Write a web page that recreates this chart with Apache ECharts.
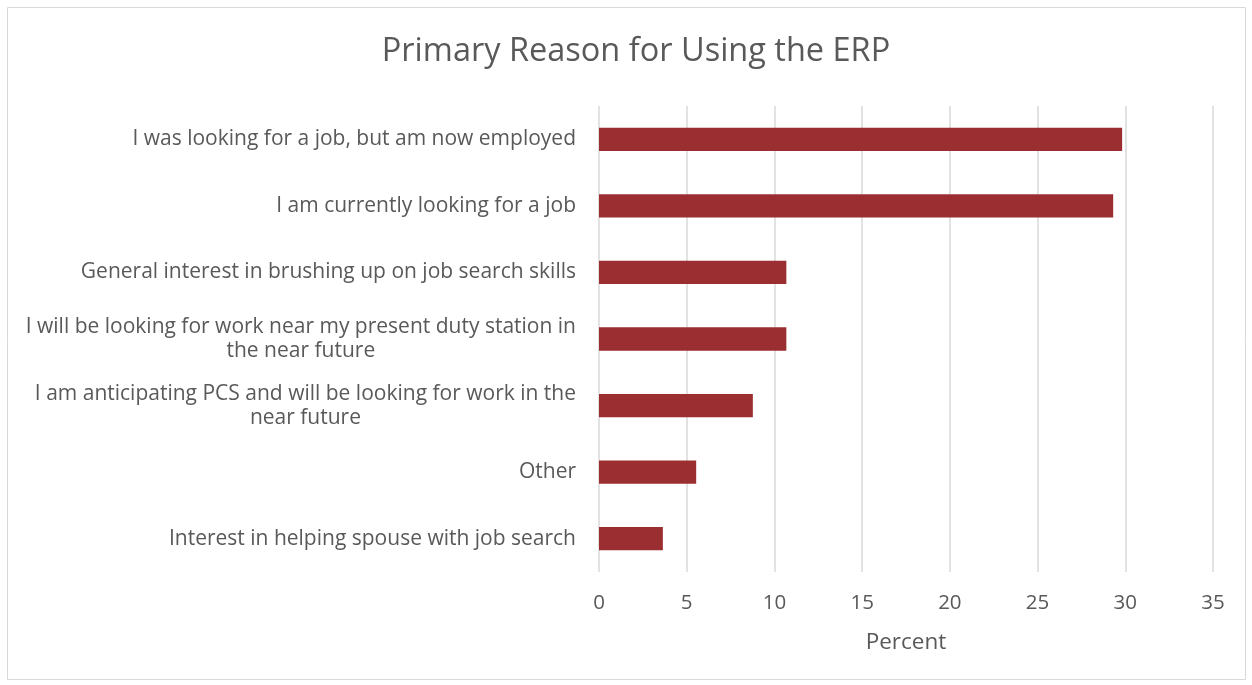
<!DOCTYPE html>
<html>
<head>
<meta charset="utf-8">
<script src="https://cdn.jsdelivr.net/npm/echarts@6/dist/echarts.min.js"></script>
<style>
  html, body { margin: 0; padding: 0; background: #fff; }
  #chart { width: 1252px; height: 685px; }
</style>
</head>
<body>
<div id="chart"></div>
<script>
// Survey responses, listed bottom-to-top as the category axis draws them
const categories = [
  'Interest in helping spouse with job search',
  'Other',
  'I am anticipating PCS and will be looking for work in the\nnear future',
  'I will be looking for work near my present duty station in\nthe near future',
  'General interest in brushing up on job search skills',
  'I am currently looking for a job',
  'I was looking for a job, but am now employed'
];
const percents = [3.64, 5.54, 8.77, 10.68, 10.68, 29.31, 29.82];
const xTicks = [0, 5, 10, 15, 20, 25, 30, 35];

const FONT = '"Open Sans", Lato, sans-serif';
const GREY = '#595959';

const chart = echarts.init(document.getElementById('chart'));
chart.setOption({
  animation: false,
  title: {
    text: 'Primary Reason for Using the ERP',
    left: 631,
    textAlign: 'center',
    top: 30,
    textStyle: { fontFamily: FONT, fontSize: 32.5, fontWeight: 'normal', color: GREY }
  },
  graphic: [{
    type: 'rect',
    shape: { x: 7.5, y: 7.5, width: 1238, height: 672 },
    style: { fill: 'none', stroke: '#d9d9d9', lineWidth: 1 },
    silent: true
  }],
  grid: { left: 599, right: 39, top: 106, bottom: 113 },
  xAxis: {
    type: 'value',
    min: xTicks[0],
    max: xTicks[xTicks.length - 1],
    interval: 5,
    name: 'Percent',
    nameLocation: 'middle',
    nameGap: 59,
    nameTextStyle: { fontFamily: FONT, fontSize: 22.5, color: GREY },
    axisLine: { show: false },
    axisTick: { show: false },
    axisLabel: { fontFamily: FONT, fontSize: 20.5, color: GREY, margin: 21 },
    splitLine: { lineStyle: { color: '#d9d9d9', width: 1.5 } }
  },
  yAxis: {
    type: 'category',
    data: categories,
    axisLine: { show: false },
    axisTick: { show: false },
    axisLabel: {
      fontFamily: FONT,
      fontSize: 21,
      color: GREY,
      margin: 23,
      lineHeight: 24,
      formatter: function (v) {
        if (v.indexOf('\n') < 0) return v;
        return v.split('\n').map(function (s) { return '{c|' + s + '}'; }).join('\n');
      },
      rich: {
        c: { align: 'center', fontFamily: FONT, fontSize: 21, color: GREY, lineHeight: 24 }
      }
    }
  },
  series: [{
    type: 'bar',
    data: percents,
    barCategoryGap: '65%',
    itemStyle: { color: '#9b2e30' }
  }]
});
</script>
</body>
</html>
